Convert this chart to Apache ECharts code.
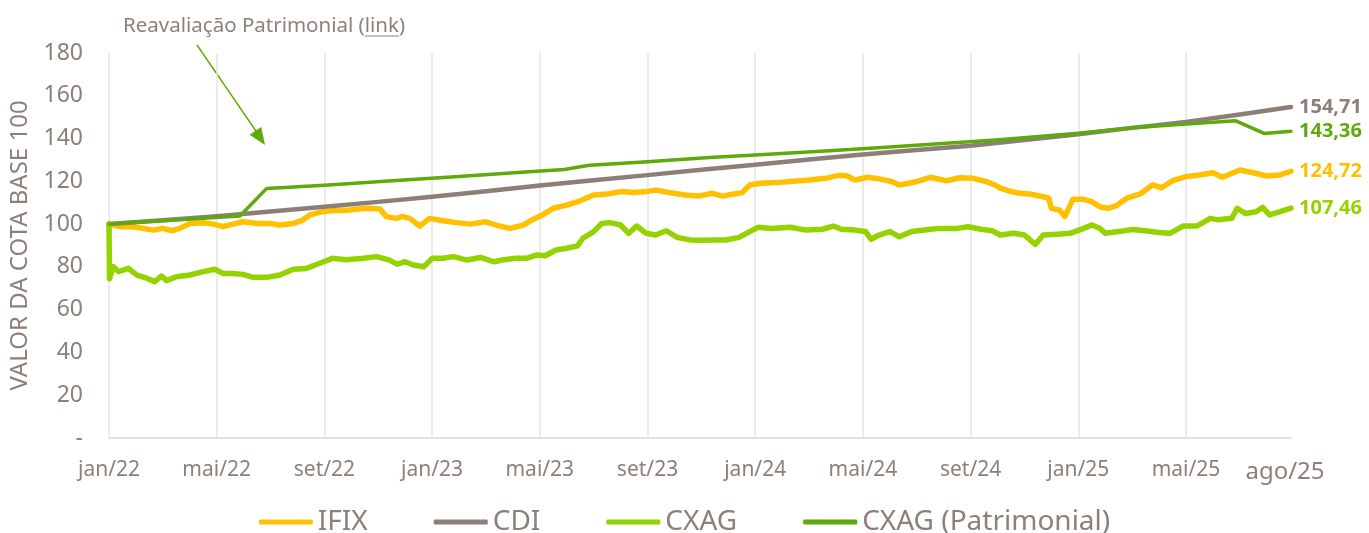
<!DOCTYPE html>
<html>
<head>
  <meta charset="utf-8">
  <title>CXAG x IFIX x CDI</title>
  <script src="https://cdn.jsdelivr.net/npm/echarts@6/dist/echarts.min.js"></script>
  <style>
    body { margin: 0; background: #fff; }
    #chart { width: 1369px; height: 533px; }
  </style>
</head>
<body>
  <div id="chart"></div>
  <script>
    // x values are months counted from jan/22
    const monthNames = ['jan', 'fev', 'mar', 'abr', 'mai', 'jun', 'jul', 'ago', 'set', 'out', 'nov', 'dez'];
    const lastMonth = 43.9;
    const gridMonths = [0, 4, 8, 12, 16, 20, 24, 28, 32, 36, 40];

    const ifixMonths = [0, 0.4, 0.9, 1.27, 1.65, 2, 2.33, 2.63, 3, 3.5, 3.87, 4.24, 4.6, 4.98, 5.48, 5.97, 6.35, 6.84, 7.2, 7.46, 7.83, 8.3, 8.94, 9.56, 10.06, 10.3, 10.67, 10.9, 11.17, 11.54, 11.9, 12.4, 12.9, 13.4, 14, 14.5, 14.9, 15.4, 15.7, 16.1, 16.5, 17, 17.5, 18, 18.5, 19, 19.5, 19.95, 20.3, 20.8, 21.4, 21.9, 22.4, 22.8, 23.2, 23.5, 23.8, 24.2, 24.8, 25.4, 26, 26.6, 27.1, 27.4, 27.7, 28.2, 28.7, 29.1, 29.35, 29.7, 29.97, 30.5, 31.1, 31.6, 32.1, 32.6, 32.9, 33.1, 33.4, 33.8, 34.2, 34.7, 34.9, 35, 35.3, 35.5, 35.8, 36.2, 36.5, 36.8, 37.1, 37.4, 37.8, 38.3, 38.75, 39.1, 39.5, 40, 40.5, 41, 41.35, 42, 42.5, 43, 43.5, 43.9];
    const ifixValues = [100, 98.8, 98.8, 98, 97.2, 98, 96.9, 98, 100.3, 100.6, 100, 98.8, 100, 101.1, 100.3, 100.3, 99.6, 100.3, 101.9, 104.3, 105.5, 106.3, 106.6, 107.4, 107.1, 103.5, 102.7, 103.6, 102.7, 99.1, 102.7, 101.6, 100.7, 100, 101.1, 99.1, 98, 99.6, 101.9, 104.3, 107.4, 108.9, 110.9, 113.6, 114.1, 115.2, 114.8, 115.2, 115.9, 114.8, 113.6, 113.1, 114.4, 113.1, 114.1, 114.6, 118.3, 119.1, 119.4, 120, 120.6, 121.4, 122.8, 122.6, 120.6, 121.9, 120.9, 119.8, 118.3, 119.1, 119.8, 121.9, 120.3, 121.7, 121.4, 119.8, 118.3, 116.8, 115.6, 114.4, 114.1, 112.8, 112.1, 107.4, 106.6, 103.5, 111.6, 111.6, 110.5, 108.1, 107.4, 108.5, 112.1, 114.1, 118.3, 117, 120.3, 122.2, 123, 124, 121.9, 125.3, 124, 122.5, 123, 124.72];

    const cdiMonths = [0, 2, 4, 6, 8, 10, 12, 14, 16, 18, 20, 22, 24, 26, 28, 30, 32, 34, 36, 38, 40, 42, 43.9];
    const cdiValues = [100, 101.8, 103.7, 105.9, 108.1, 110.4, 112.8, 115.4, 118, 120.5, 122.9, 125.4, 127.7, 130.2, 132.5, 134.6, 136.6, 139.3, 142, 145, 147.8, 151.2, 154.71];

    const cxagMonths = [0, 0.02, 0.16, 0.35, 0.72, 1.03, 1.4, 1.7, 1.95, 2.14, 2.5, 3, 3.5, 3.93, 4.24, 4.6, 4.98, 5.35, 5.85, 6.35, 6.84, 7.33, 7.83, 8.3, 8.8, 9.44, 9.93, 10.4, 10.7, 11, 11.3, 11.7, 12, 12.4, 12.8, 13.3, 13.8, 14.3, 14.6, 15.1, 15.5, 15.9, 16.2, 16.6, 17, 17.4, 17.6, 18, 18.3, 18.6, 19, 19.3, 19.6, 19.95, 20.3, 20.7, 21.1, 21.6, 22.05, 22.4, 22.9, 23.4, 23.8, 24.1, 24.6, 25.3, 25.9, 26.5, 26.9, 27.2, 27.7, 28.1, 28.3, 28.6, 29, 29.35, 29.8, 30.3, 30.8, 31.5, 31.9, 32.4, 32.8, 33.1, 33.6, 34, 34.4, 34.7, 35.2, 35.7, 36.2, 36.5, 36.8, 37, 37.5, 38, 38.5, 39, 39.4, 39.9, 40.4, 40.9, 41.2, 41.7, 41.9, 42.2, 42.6, 42.85, 43.1, 43.5, 43.9];
    const cxagValues = [100, 74.5, 80.1, 77.8, 79.3, 76.2, 74.7, 73.1, 75.7, 73.6, 75.4, 76.2, 77.8, 78.9, 76.9, 76.9, 76.5, 75.1, 75.1, 76.2, 78.9, 79.3, 81.7, 84, 83.3, 84, 84.8, 83.3, 81.3, 82.4, 80.9, 80.1, 84, 84, 84.8, 83.2, 84.4, 82.4, 83.2, 84, 84, 85.6, 85.2, 87.9, 88.7, 89.8, 93.4, 96.5, 100.3, 100.7, 99.6, 95.7, 99.1, 95.7, 94.9, 96.9, 93.8, 92.6, 92.4, 92.6, 92.6, 93.8, 96.5, 98.5, 98, 98.5, 97.2, 97.6, 99.1, 97.6, 97.2, 96.5, 92.9, 94.9, 96.5, 94.1, 96.5, 97.2, 98, 98, 98.8, 97.6, 96.9, 94.9, 95.7, 94.9, 90.5, 94.9, 95.3, 95.7, 98, 99.6, 98, 95.7, 96.5, 97.5, 96.9, 96.1, 95.7, 99.1, 99.1, 102.7, 102, 102.7, 107.4, 105, 105.8, 107.8, 104.3, 105.8, 107.46];

    const patrMonths = [0, 2, 4.86, 5.85, 8, 10.8, 13, 15.6, 16.9, 17.85, 20, 22.3, 24, 26.75, 29, 31.8, 33.06, 36, 38, 40, 41.85, 42.9, 43.9];
    const patrValues = [100, 101.6, 103.8, 116.6, 118.2, 120.5, 122.3, 124.5, 125.5, 127.5, 129.2, 131.1, 132.3, 134.3, 136, 138.4, 139.4, 142.5, 145.1, 146.8, 148.3, 142.4, 143.36];

    const textGray = '#8C8079';
    const font = 'Noto Sans';

    function pairs(xs, ys) {
      return xs.map(function (x, i) { return [x, ys[i]]; });
    }
    function monthLabel(v) {
      const m = Math.floor(v + 1e-6);
      return monthNames[m % 12] + '/' + (22 + Math.floor(m / 12));
    }
    function endLabel(color) {
      return {
        show: true,
        distance: 8,
        color: color,
        fontFamily: font,
        fontWeight: 'bold',
        fontSize: 20,
        formatter: function (p) { return p.value[1].toFixed(2).replace('.', ','); }
      };
    }
    function line(name, data, color, width) {
      return {
        name: name,
        type: 'line',
        data: data,
        showSymbol: false,
        symbol: 'none',
        color: color,
        lineStyle: { color: color, width: width, join: 'round', cap: 'round' },
        endLabel: endLabel(color)
      };
    }

    const series = [
      line('IFIX', pairs(ifixMonths, ifixValues), '#FFC000', 5.5),
      line('CDI', pairs(cdiMonths, cdiValues), '#8C7F78', 4.5),
      line('CXAG', pairs(cxagMonths, cxagValues), '#94D300', 5.5),
      line('CXAG (Patrimonial)', pairs(patrMonths, patrValues), '#5DAA0A', 3.5)
    ];
    // vertical gridlines, drawn under the lines
    series[1].markLine = {
      silent: true,
      z: 1,
      symbol: 'none',
      label: { show: false },
      lineStyle: { color: '#E4E4E4', type: 'solid', width: 1.5 },
      data: gridMonths.map(function (m) { return { xAxis: m }; })
    };

    // annotation text pieces, measured so that "link" can be underlined
    const noteFont = '20.5px "' + font + '"';
    const ctx = document.createElement('canvas').getContext('2d');
    ctx.font = noteFont;
    const notePre = 'Reavaliação Patrimonial (';
    const w1 = ctx.measureText(notePre).width;
    const w2 = ctx.measureText('link').width;
    const noteX = 123, noteY = 26;

    const myChart = echarts.init(document.getElementById('chart'));
    const option = {
      animation: false,
      textStyle: { fontFamily: font },
      grid: { left: 109, right: 78, top: 53, bottom: 95 },
      legend: {
        data: ['IFIX', 'CDI', 'CXAG', 'CXAG (Patrimonial)'],
        left: 'center',
        top: 503,
        icon: 'roundRect',
        itemWidth: 54,
        itemHeight: 5,
        itemGap: 66,
        textStyle: { color: textGray, fontSize: 28, fontFamily: font }
      },
      xAxis: {
        type: 'value',
        min: 0,
        max: lastMonth,
        interval: 4,
        axisLine: { show: true, lineStyle: { color: '#D9D9D9', width: 1.5 } },
        axisTick: { show: false },
        splitLine: { show: false },
        axisLabel: {
          color: textGray,
          fontSize: 21,
          margin: 22,
          formatter: function (v) {
            if (v >= lastMonth - 1e-6) return '{end|' + monthLabel(v) + '}';
            return monthLabel(v);
          },
          rich: {
            end: { fontSize: 24, color: textGray, padding: [0, 12, 0, 0] }
          }
        }
      },
      yAxis: {
        type: 'value',
        min: 0,
        max: 180,
        interval: 20,
        axisLine: { show: false },
        axisTick: { show: false },
        splitLine: { show: false },
        axisLabel: {
          color: textGray,
          fontSize: 23,
          margin: 26,
          formatter: function (v) { return v === 0 ? '-' : String(v); }
        },
        name: 'VALOR DA COTA BASE 100',
        nameLocation: 'middle',
        nameRotate: 90,
        nameGap: 74,
        nameTextStyle: { color: textGray, fontSize: 24 }
      },
      graphic: [
        { type: 'text', x: noteX, y: noteY, style: { text: notePre + 'link)', font: noteFont, fill: textGray, verticalAlign: 'middle' } },
        { type: 'line', shape: { x1: noteX + w1, y1: 36, x2: noteX + w1 + w2, y2: 36 }, style: { stroke: textGray, lineWidth: 1 } },
        { type: 'line', shape: { x1: 197, y1: 45, x2: 258, y2: 134 }, style: { stroke: '#5DAA0A', lineWidth: 1.4 } },
        { type: 'polygon', shape: { points: [[265, 145], [249.6, 134.8], [261.2, 127]] }, style: { fill: '#5DAA0A' } }
      ],
      series: series
    };
    myChart.setOption(option);
  </script>
</body>
</html>
